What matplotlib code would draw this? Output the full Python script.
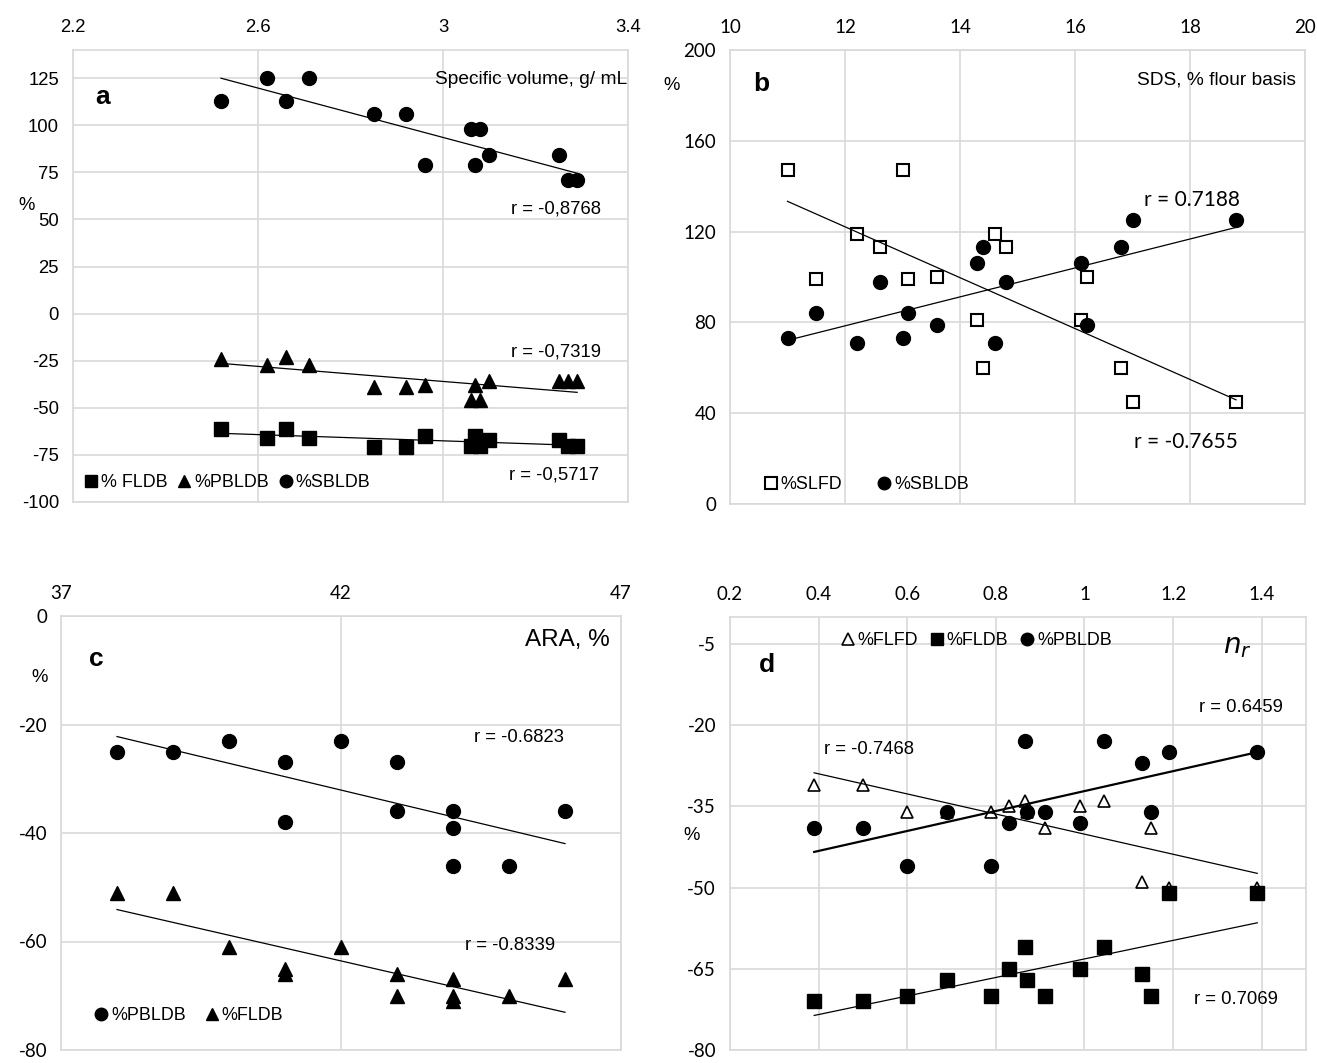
import numpy as np
import matplotlib
matplotlib.use("Agg")
import matplotlib.pyplot as plt
from matplotlib.ticker import FuncFormatter
from matplotlib import font_manager

names = {f.name for f in font_manager.fontManager.ttflist}
if 'Liberation Sans Narrow' in names:
    NARROW, NS = 'Liberation Sans Narrow', 1.0
else:
    NARROW, NS = 'Liberation Sans', 0.92
CAL = 'Lato' if 'Lato' in names else 'DejaVu Sans'

plt.rcParams['font.family'] = [NARROW, 'DejaVu Sans']
plt.rcParams['axes.unicode_minus'] = False

# ---- panel a: specific volume ----
sv = [2.52, 2.62, 2.66, 2.71, 2.85, 2.92, 2.96, 3.06, 3.08, 3.07, 3.10, 3.25, 3.27, 3.29]
a_sbldb = [113, 125, 113, 125, 106, 106, 79, 98, 98, 79, 84, 84, 71, 71]
a_pbldb = [-24, -27, -23, -27, -39, -39, -38, -46, -46, -38, -36, -36, -36, -36]
a_fldb = [-61, -66, -61, -66, -71, -71, -65, -70, -70, -65, -67, -67, -70, -70]

# ---- panel b: SDS ----
sds = [11.0, 11.5, 12.2, 12.6, 13.0, 13.1, 13.6, 14.3, 14.4, 14.6, 14.8, 16.1, 16.2, 16.8, 17.0, 18.8]
b_slfd = [147, 99, 119, 113, 147, 99, 100, 81, 60, 119, 113, 81, 100, 60, 45, 45]
b_sbldb = [73, 84, 71, 98, 73, 84, 79, 106, 113, 71, 98, 106, 79, 113, 125, 125]

# ---- panel c: ARA ----
ara = [38, 39, 40, 41, 41, 42, 43, 43, 44, 44, 44, 45, 46]
c_pbldb = [-25, -25, -23, -27, -38, -23, -27, -36, -36, -39, -46, -46, -36]
c_fldb = [-51, -51, -61, -65, -66, -61, -66, -70, -67, -70, -71, -70, -67]

# ---- panel d: n_r ----
nr = [0.39, 0.50, 0.60, 0.69, 0.79, 0.83, 0.866, 0.871, 0.91, 0.99, 1.045, 1.13, 1.15, 1.19, 1.39]
d_flfd = [-31, -31, -36, -36, -36, -35, -34, -36, -39, -35, -34, -49, -39, -50, -50]
d_fldb = [-71, -71, -70, -67, -70, -65, -61, -67, -70, -65, -61, -66, -70, -51, -51]
d_pbldb = [-39, -39, -46, -36, -46, -38, -23, -36, -36, -38, -23, -27, -36, -25, -25]

W, H = 1317, 1063
fig = plt.figure(figsize=(W / 100, H / 100), dpi=100)

def px_axes(l, t, r, b):
    return fig.add_axes([l / W, 1 - b / H, (r - l) / W, (b - t) / H])

def style(ax, tickfont, size):
    ax.xaxis.tick_top()
    ax.grid(True, color='#d9d9d9', lw=1.2)
    ax.set_axisbelow(True)
    for s in ax.spines.values():
        s.set_color('#d9d9d9')
        s.set_linewidth(1.2)
    ax.tick_params(length=0, pad=10, labelsize=size)
    ax.xaxis.set_major_formatter(FuncFormatter(lambda v, p: '%g' % round(v, 3)))
    for lab in ax.get_xticklabels() + ax.get_yticklabels():
        lab.set_family(tickfont)

def trend(ax, x, y, lw=0.9):
    k, c = np.polyfit(x, y, 1)
    xs = np.array([min(x), max(x)])
    ax.plot(xs, k * xs + c, color='black', lw=lw, zorder=4)

def note(x, y, s, size=14.5, **kw):
    fig.text(x / W, 1 - y / H, s, ha='center', va='center', fontsize=size, **kw)

ms = 10
leg = dict(frameon=False, handletextpad=0.0, handlelength=1.1, fontsize=14 * NS,
           markerscale=0.9)

# panel a
ax = px_axes(73, 50, 628, 502)
ax.plot(sv, a_fldb, 's', color='black', ms=ms - 0.5, label='% FLDB')
ax.plot(sv, a_pbldb, '^', color='black', ms=ms, label='%PBLDB')
ax.plot(sv, a_sbldb, 'o', color='black', ms=ms, label='%SBLDB')
for yv in (a_fldb, a_pbldb, a_sbldb):
    trend(ax, sv, yv)
ax.set_xlim(2.2, 3.4)
ax.set_xticks([2.2, 2.6, 3.0, 3.4])
ax.set_ylim(-100, 140)
ax.set_yticks(np.arange(-100, 126, 25))
style(ax, [NARROW], 14.5 * NS)
ax.legend(loc='lower left', bbox_to_anchor=(-0.005, 0.0), ncol=3, columnspacing=0.4,
          borderaxespad=0.2, **leg)
ax.text(0.998, 0.935, 'Specific volume, g/ mL', transform=ax.transAxes, ha='right',
        va='center', fontsize=15 * NS)
ax.text(0.04, 0.895, 'a', transform=ax.transAxes, fontsize=19, fontweight='bold',
        va='center', family=['Liberation Sans'])
note(556, 209, 'r = -0,8768', size=14.5 * NS)
note(556, 352, 'r = -0,7319', size=14.5 * NS)
note(554, 475, 'r = -0,5717', size=14.5 * NS)
note(27, 205, '%', size=14.5 * NS)

# panel b
ax = px_axes(730, 50, 1305, 504)
ax.plot(sds, b_slfd, 's', mfc='white', mec='black', mew=1.5, ms=ms - 1, label='%SLFD')
ax.plot(sds, b_sbldb, 'o', color='black', ms=ms, label='%SBLDB')
trend(ax, sds, b_slfd)
trend(ax, sds, b_sbldb)
ax.set_xlim(10, 20)
ax.set_xticks(np.arange(10, 21, 2))
ax.set_ylim(0, 200)
ax.set_yticks(np.arange(0, 201, 40))
style(ax, [CAL], 13.5)
ax.legend(loc='lower left', bbox_to_anchor=(0.035, 0.0), ncol=2, columnspacing=1.8,
          borderaxespad=0.2, **leg)
ax.text(0.985, 0.935, 'SDS, % flour basis', transform=ax.transAxes, ha='right',
        va='center', fontsize=15 * NS)
ax.text(0.04, 0.925, 'b', transform=ax.transAxes, fontsize=19, fontweight='bold',
        va='center', family=['Liberation Sans'])
note(1192, 200, 'r = 0.7188', size=15, family=[CAL])
note(1186, 442, 'r = -0.7655', size=15, family=[CAL])
note(672, 85, '%', size=14.5 * NS)

# panel c
ax = px_axes(61, 616, 621, 1050)
ax.plot(ara, c_pbldb, 'o', color='black', ms=ms, label='%PBLDB')
ax.plot(ara, c_fldb, '^', color='black', ms=ms, label='%FLDB')
trend(ax, ara, c_pbldb)
trend(ax, ara, c_fldb)
ax.set_xlim(37, 47)
ax.set_xticks([37, 42, 47])
ax.set_ylim(-80, 0)
ax.set_yticks(np.arange(-80, 1, 20))
style(ax, [CAL], 13.5)
ax.legend(loc='lower left', bbox_to_anchor=(0.035, 0.035), ncol=2, columnspacing=0.9,
          borderaxespad=0.2, **leg)
ax.text(0.98, 0.945, 'ARA, %', transform=ax.transAxes, ha='right', va='center',
        fontsize=19 * NS)
ax.text(0.05, 0.9, 'c', transform=ax.transAxes, fontsize=19, fontweight='bold',
        va='center', family=['Liberation Sans'])
note(519, 737, 'r = -0.6823', size=14.5 * NS)
note(510, 945, 'r = -0.8339', size=14.5 * NS)
note(40, 677, '%', size=14.5 * NS)

# panel d
ax = px_axes(730, 617, 1306, 1050)
ax.plot(nr, d_flfd, '^', mfc='white', mec='black', mew=1.2, ms=ms - 1, label='%FLFD')
ax.plot(nr, d_fldb, 's', color='black', ms=ms - 0.5, label='%FLDB')
ax.plot(nr, d_pbldb, 'o', color='black', ms=ms, label='%PBLDB')
trend(ax, nr, d_flfd)
trend(ax, nr, d_fldb)
trend(ax, nr, d_pbldb, lw=1.6)
ax.set_xlim(0.2, 1.5)
ax.set_xticks(np.arange(0.2, 1.41, 0.2))
ax.set_ylim(-80, 0)
ax.set_yticks(np.arange(-80, -4, 15))
style(ax, [CAL], 13.5)
ax.legend(loc='center', bbox_to_anchor=(0.425, 0.945), ncol=3, columnspacing=0.5, **leg)
ax.text(0.05, 0.89, 'd', transform=ax.transAxes, fontsize=19, fontweight='bold',
        va='center', family=['Liberation Sans'])
ax.text(0.88, 0.93, '$n_r$', transform=ax.transAxes, ha='center', va='center',
        fontsize=20, family=['Liberation Sans'])
note(1241, 708, 'r = 0.6459', size=14.5 * NS)
note(869, 750, 'r = -0.7468', size=14.5 * NS)
note(1236, 1000, 'r = 0.7069', size=14.5 * NS)
note(692, 835, '%', size=14.5 * NS)

fig.savefig('out.png', dpi=100)
